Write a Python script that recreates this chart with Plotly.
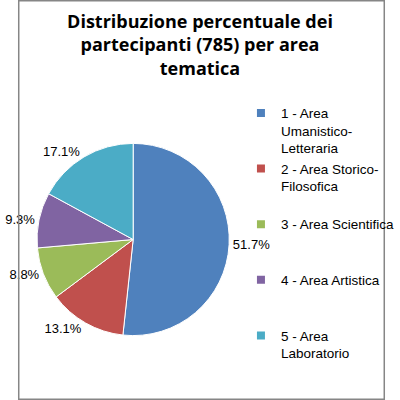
import plotly.graph_objects as go

title_text = "Distribuzione percentuale dei<br>partecipanti (785) per area<br>tematica"
categories = ["1 - Area<br>Umanistico-<br>Letteraria",
              "2 - Area Storico-<br>Filosofica",
              "3 - Area Scientifica",
              "4 - Area Artistica",
              "5 - Area<br>Laboratorio"]
percentages = [51.7, 13.1, 8.8, 9.3, 17.1]
colors = ["#4F81BD", "#C0504D", "#9BBB59", "#8064A2", "#4BACC6"]

FONT = "Liberation Sans"

fig = go.Figure()
fig.add_trace(go.Pie(
    labels=categories,
    values=percentages,
    sort=False,
    direction="clockwise",
    rotation=0,
    marker=dict(colors=colors, line=dict(color="#FFFFFF", width=1)),
    textposition="outside",
    texttemplate="%{value:.1f}%",
    textfont=dict(family=FONT, size=13, color="#000000"),
    domain=dict(x=[0.0519, 0.5756], y=[0.1394, 0.6631]),
    showlegend=False,
    hoverinfo="label+percent",
))

# legend entries (no marks drawn)
for name, col in zip(categories, colors):
    nlines = name.count("<br>") + 1
    padded = name + "<br>\u00a0" * (3 - nlines)
    fig.add_trace(go.Scatter(
        x=[None], y=[None], mode="markers", name=padded,
        marker=dict(symbol="square", size=8, color=col),
        showlegend=True,
    ))

axis_off = dict(visible=False, showgrid=False, zeroline=False, showline=False,
                showticklabels=False)
fig.update_layout(
    width=400, height=400,
    margin=dict(l=0, r=0, t=0, b=0),
    paper_bgcolor="#FFFFFF", plot_bgcolor="rgba(0,0,0,0)",
    xaxis=axis_off, yaxis=axis_off,
    title=dict(text=title_text, x=0.5, xanchor="center", y=0.93, yanchor="top",
               font=dict(family="Open Sans", size=18, color="#000000", weight="bold")),
    legend=dict(x=0.6075, y=0.756, xanchor="left", yanchor="top", valign="top",
                font=dict(family=FONT, size=13.5, color="#000000"),
                bgcolor="rgba(0,0,0,0)", itemclick=False),
    shapes=[dict(type="rect", xref="paper", yref="paper", x0=0.002, y0=0.002, x1=0.998, y1=0.998,
                 line=dict(color="#868686", width=1.5), fillcolor="rgba(0,0,0,0)")],
)

fig.write_html("out.html", config={"displayModeBar": False},
               post_script="document.body.style.margin='0';")
